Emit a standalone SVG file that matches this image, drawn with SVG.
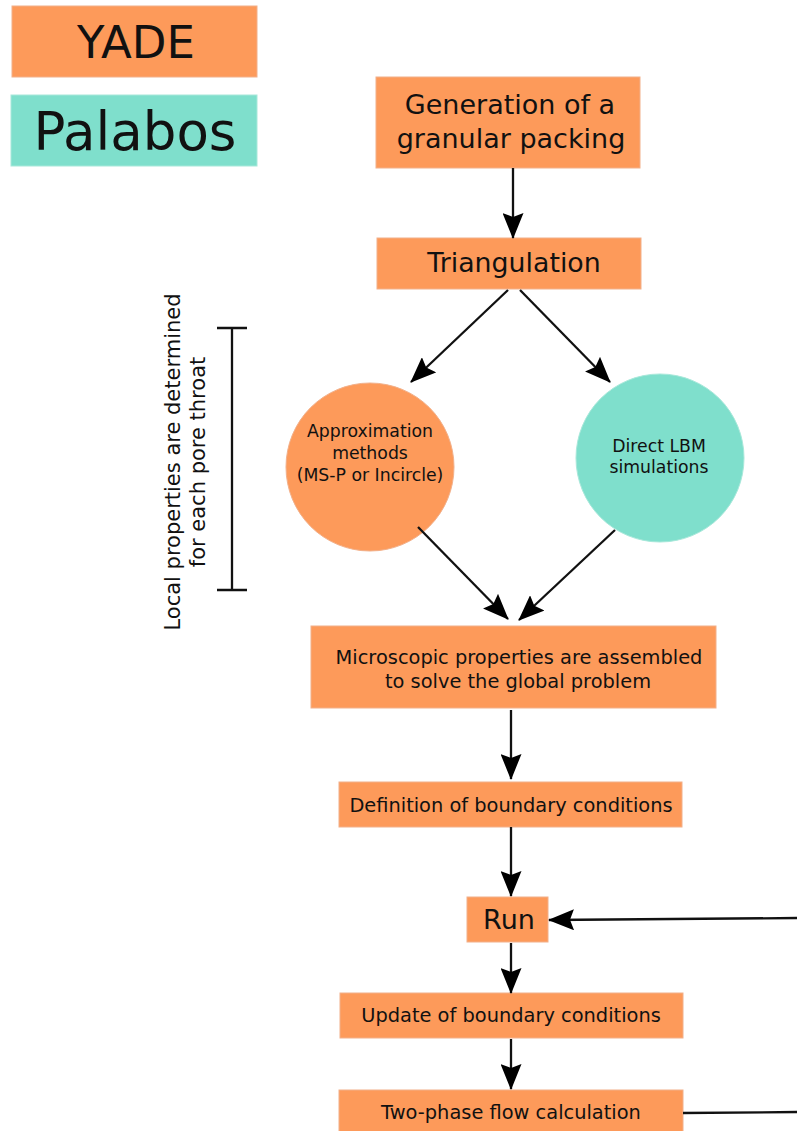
<svg xmlns="http://www.w3.org/2000/svg" width="797" height="1131" viewBox="0 0 797 1131">
<style>
.o{fill:#fd9a5a;stroke:#f2b08a;stroke-width:1}
.t{fill:#7fdfcc;stroke:#a8e8da;stroke-width:1}
text{font-family:"DejaVu Sans",sans-serif;fill:#111;text-anchor:middle}
.c{stroke:#111;stroke-width:2.3;fill:none}
.s{font-size:19.4px}
.m{font-size:17.3px}
</style>
<defs>
<marker id="ah" viewBox="0 0 26 21" refX="25" refY="10.5" markerWidth="26" markerHeight="21" markerUnits="userSpaceOnUse" orient="auto">
<path d="M0,0 L26,10.5 L0,21 L4,10.5 Z" fill="#000"/>
</marker>
</defs>
<g id="legend-yade"><rect class="o" x="12" y="6" width="245" height="71"/><text x="136" y="58" font-size="45">YADE</text></g>
<g id="legend-palabos"><rect class="t" x="11" y="95" width="246" height="71"/><text x="135" y="150" font-size="53">Palabos</text></g>
<g id="generation"><rect class="o" x="376" y="77" width="264" height="91"/><text x="510" y="114" font-size="27">Generation of a</text><text x="511" y="148" font-size="27">granular packing</text></g>
<g id="triangulation"><rect class="o" x="377" y="238" width="264" height="51"/><text x="514" y="272" font-size="26.8">Triangulation</text></g>
<g id="approx"><circle class="o" cx="370" cy="467" r="84"/><text class="m" x="370" y="437">Approximation</text><text class="m" x="370" y="459">methods</text><text class="m" x="370" y="481">(MS-P or Incircle)</text></g>
<g id="lbm"><circle class="t" cx="660" cy="458" r="84"/><text class="m" x="659" y="452">Direct LBM</text><text class="m" x="659" y="473">simulations</text></g>
<g id="micro"><rect class="o" x="311" y="626" width="405" height="82"/><text class="s" x="519" y="664">Microscopic properties are assembled</text><text class="s" x="518" y="688">to solve the global problem</text></g>
<g id="definition"><rect class="o" x="339" y="782" width="343" height="45"/><text class="s" x="511" y="812">Definition of boundary conditions</text></g>
<g id="run"><rect class="o" x="467" y="897" width="81" height="45"/><text x="509" y="929" font-size="27">Run</text></g>
<g id="update"><rect class="o" x="340" y="993" width="343" height="45"/><text class="s" x="511" y="1022">Update of boundary conditions</text></g>
<g id="twophase"><rect class="o" x="339" y="1090" width="344" height="45"/><text class="s" x="511" y="1119">Two-phase flow calculation</text></g>
<g id="bracket"><path class="c" d="M232,328 V590 M217,328 H247 M217,590 H247" stroke-width="3"/>
<text transform="translate(180,462) rotate(-90)" font-size="21">Local properties are determined</text>
<text transform="translate(205,462) rotate(-90)" font-size="21">for each pore throat</text></g>
<g id="connectors">
<line class="c" x1="513" y1="168" x2="513" y2="238" marker-end="url(#ah)"/>
<line class="c" x1="508" y1="290" x2="411" y2="382" marker-end="url(#ah)"/>
<line class="c" x1="520" y1="290" x2="610" y2="382" marker-end="url(#ah)"/>
<line class="c" x1="418" y1="527" x2="508" y2="619" marker-end="url(#ah)"/>
<line class="c" x1="615" y1="530" x2="519" y2="620" marker-end="url(#ah)"/>
<line class="c" x1="511" y1="710" x2="511" y2="779" marker-end="url(#ah)"/>
<line class="c" x1="511" y1="827" x2="511" y2="896" marker-end="url(#ah)"/>
<line class="c" x1="797" y1="918" x2="549" y2="920" marker-end="url(#ah)"/>
<line class="c" x1="511" y1="943" x2="511" y2="993" marker-end="url(#ah)"/>
<line class="c" x1="511" y1="1039" x2="511" y2="1089" marker-end="url(#ah)"/>
<line class="c" x1="683" y1="1113" x2="797" y2="1112"/>
</g>
</svg>
